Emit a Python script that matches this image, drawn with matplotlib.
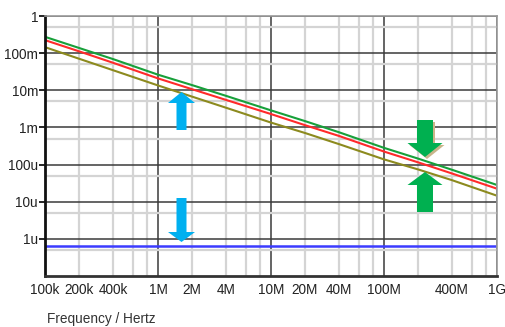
import numpy as np
import matplotlib
matplotlib.use('Agg')
import matplotlib.pyplot as plt
from matplotlib.patches import Polygon
from matplotlib.ticker import LogLocator, FixedLocator, NullFormatter

plt.rcParams['font.family'] = ['Liberation Sans', 'DejaVu Sans']

# Frequencias (Hz)
freq = [1e5, 2e5, 4e5, 1e6, 2e6, 4e6, 1e7, 2e7, 4e7, 1e8, 2e8, 4e8, 1e9]

# Curvas (valores lidos)
verde = [0.275, 0.138, 0.0692, 0.0263, 0.0138, 0.00708, 0.00288, 0.00148,
         7.41e-4, 2.82e-4, 1.45e-4, 7.24e-5, 2.82e-5]
vermelho = [0.224, 0.112, 0.0550, 0.0209, 0.0107, 0.00550, 0.00229, 0.00115,
            5.89e-4, 2.24e-4, 1.15e-4, 5.75e-5, 2.24e-5]
oliva = [0.145, 0.0708, 0.0347, 0.0135, 0.00676, 0.00339, 0.00135, 7.08e-4,
         3.55e-4, 1.38e-4, 7.41e-5, 3.80e-5, 1.45e-5]
azul = [6.5e-7] * len(freq)

# Rotulos dos eixos
xticks = [1e5, 2e5, 4e5, 1e6, 2e6, 4e6, 1e7, 2e7, 4e7, 1e8, 4e8, 1e9]
xlabels = ['100k', '200k', '400k', '1M', '2M', '4M', '10M', '20M', '40M',
           '100M', '400M', '1G']
yticks = [1, 1e-1, 1e-2, 1e-3, 1e-4, 1e-5, 1e-6]
ylabels = ['1', '100m', '10m', '1m', '100u', '10u', '1u']

W, H = 506, 327
fig = plt.figure(figsize=(W / 100, H / 100), dpi=100)
ax = fig.add_axes([45 / W, 1 - 276 / H, 452 / W, 260 / H])

ax.set_xscale('log')
ax.set_yscale('log')
ax.set_xlim(1e5, 1e9)
ax.set_ylim(1e-7, 1)

# Grade
ax.xaxis.set_major_locator(FixedLocator([1e5, 1e6, 1e7, 1e8, 1e9]))
ax.xaxis.set_minor_locator(LogLocator(base=10, subs=[2, 4, 6, 8]))
ax.yaxis.set_major_locator(FixedLocator(yticks))
ax.yaxis.set_minor_locator(LogLocator(base=10, subs=[5.0]))
ax.grid(True, which='minor', color='#d4d4d4', lw=1.6)
ax.grid(True, which='major', color='#3a3a3a', lw=1.1)
ax.set_axisbelow(True)

# Curvas
ax.plot(freq, azul, color='#3c3cff', lw=1.8)
ax.plot(freq, oliva, color='#8c8a1e', lw=1.5)
ax.plot(freq, vermelho, color='#ff2a2a', lw=1.5)
ax.plot(freq, verde, color='#17a03a', lw=1.5)

# Ticks e rotulos
ax.set_yticks(yticks)
ax.set_yticklabels(ylabels)
ax.yaxis.set_minor_formatter(NullFormatter())
ax.xaxis.set_minor_formatter(NullFormatter())
ax.tick_params(axis='y', which='major', length=4, width=1.2, pad=1,
               labelsize=9.8, labelcolor='#222222')
ax.tick_params(axis='x', which='major', length=0, pad=5,
               labelsize=9.8, labelcolor='#222222')
ax.tick_params(which='minor', length=0)
# rotulos do eixo x em eixo secundario para nao mexer na grade
sec = ax.secondary_xaxis('bottom')
sec.set_xticks(xticks)
sec.set_xticklabels(xlabels)
sec.tick_params(length=0, pad=5, labelsize=9.8, labelcolor='#222222')
sec.xaxis.set_minor_locator(FixedLocator([]))
sec.spines['bottom'].set_visible(False)
ax.set_xticklabels([])

for lado in ['top', 'right']:
    ax.spines[lado].set_color('#9a9a9a')
    ax.spines[lado].set_linewidth(1.2)
ax.spines['left'].set_color('#111111')
ax.spines['left'].set_linewidth(2)
ax.spines['bottom'].set_color('#333333')
ax.spines['bottom'].set_linewidth(2)

fig.text(47 / W, 1 - 319 / H, 'Frequency / Hertz', fontsize=9.8,
         color='#333333', va='center', ha='left')


# Setas (coordenadas em pixels da figura)
def seta(cx, cauda, ponta, haste, cabeca, comp, cor, dx=0, dy=0):
    s = 1 if ponta > cauda else -1
    base = ponta - s * comp
    pts = [(cx - haste / 2, cauda), (cx + haste / 2, cauda),
           (cx + haste / 2, base), (cx + cabeca / 2, base),
           (cx, ponta), (cx - cabeca / 2, base), (cx - haste / 2, base)]
    pts = [((x + dx) / W, 1 - (y + dy) / H) for x, y in pts]
    fig.patches.append(Polygon(pts, closed=True, transform=fig.transFigure,
                               facecolor=cor, edgecolor='none', zorder=5))


seta(181.5, 130, 92, 10, 27, 11, '#00b0f0')
seta(181.5, 198, 242, 10, 27, 10, '#00b0f0')
seta(425, 120, 157, 16, 35, 14, '#c9b58a', dx=2, dy=2)
seta(425, 120, 157, 16, 35, 14, '#00b050')
seta(425, 212, 172, 16, 35, 13, '#00b050')

fig.savefig('out.png', dpi=100)
